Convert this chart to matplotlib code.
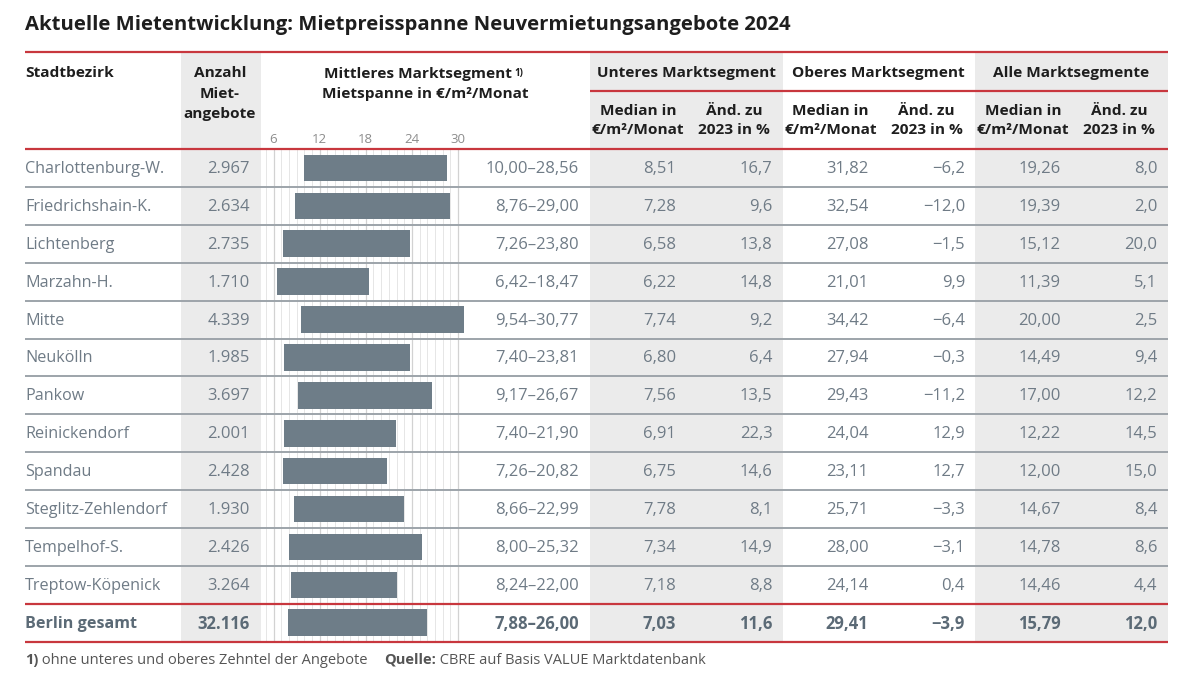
import matplotlib
matplotlib.use("Agg")
import matplotlib.pyplot as plt
from matplotlib.patches import Rectangle

# ---------------- data ----------------
districts = ["Charlottenburg-W.", "Friedrichshain-K.", "Lichtenberg", "Marzahn-H.", "Mitte",
             "Neukölln", "Pankow", "Reinickendorf", "Spandau", "Steglitz-Zehlendorf",
             "Tempelhof-S.", "Treptow-Köpenick", "Berlin gesamt"]
offers = [2967, 2634, 2735, 1710, 4339, 1985, 3697, 2001, 2428, 1930, 2426, 3264, 32116]
mid_low = [10.00, 8.76, 7.26, 6.42, 9.54, 7.40, 9.17, 7.40, 7.26, 8.66, 8.00, 8.24, 7.88]
mid_high = [28.56, 29.00, 23.80, 18.47, 30.77, 23.81, 26.67, 21.90, 20.82, 22.99, 25.32, 22.00, 26.00]
lower_median = [8.51, 7.28, 6.58, 6.22, 7.74, 6.80, 7.56, 6.91, 6.75, 7.78, 7.34, 7.18, 7.03]
lower_change = [16.7, 9.6, 13.8, 14.8, 9.2, 6.4, 13.5, 22.3, 14.6, 8.1, 14.9, 8.8, 11.6]
upper_median = [31.82, 32.54, 27.08, 21.01, 34.42, 27.94, 29.43, 24.04, 23.11, 25.71, 28.00, 24.14, 29.41]
upper_change = [-6.2, -12.0, -1.5, 9.9, -6.4, -0.3, -11.2, 12.9, 12.7, -3.3, -3.1, 0.4, -3.9]
all_median = [19.26, 19.39, 15.12, 11.39, 20.00, 14.49, 17.00, 12.22, 12.00, 14.67, 14.78, 14.46, 15.79]
all_change = [8.0, 2.0, 20.0, 5.1, 2.5, 9.4, 12.2, 14.5, 15.0, 8.4, 8.6, 4.4, 12.0]
axis_ticks = [6, 12, 18, 24, 30]
minor_ticks = list(range(5, 31))

title = "Aktuelle Mietentwicklung: Mietpreisspanne Neuvermietungsangebote 2024"

# ---------------- helpers ----------------
def de(v, nd):
    s = f"{abs(v):.{nd}f}".replace(".", ",")
    return ("\u2212" + s) if v < 0 else s

def thousands(n):
    return f"{n:,}".replace(",", ".")

FONT = ["Open Sans", "DejaVu Sans"]
plt.rcParams["font.family"] = FONT

W, H = 1194, 673
fig = plt.figure(figsize=(W / 100, H / 100), dpi=100)
fig.patch.set_facecolor("white")

bg = fig.add_axes([0, 0, 1, 1])
bg.set_xlim(0, W)
bg.set_ylim(H, 0)
bg.axis("off")
bg.set_zorder(2)
bg.patch.set_alpha(0)

RED = "#c8373e"
SEP = "#9da4aa"
SHADE = "#ebebeb"
TXT = "#6f7b86"
TXT_B = "#5b6a76"
HEAD = "#1e1e1e"
FS_H = 11.1   # header
FS_T = 11.6   # district names
FS_N = 12.0   # numbers

L, R = 25, 1168
top_y, sub_y, head_bot = 52, 91, 149
row_h = 37.9
n = len(districts)
bottom = head_bot + n * row_h

shade_ax = fig.add_axes([0, 0, 1, 1], zorder=0)
shade_ax.set_xlim(0, W)
shade_ax.set_ylim(H, 0)
shade_ax.axis("off")
for x0, x1 in [(180.5, 261), (590, 782.5), (975, R)]:
    shade_ax.add_patch(Rectangle((x0, top_y), x1 - x0, bottom - top_y, color=SHADE, lw=0))

# bar axes (middle market segment)
px0, scale = 273.5, 7.6875  # pixel of value 6, pixels per unit
xmin, xmax = 4, 32
ax_left = px0 + (xmin - 6) * scale
ax_right = px0 + (xmax - 6) * scale
ax = fig.add_axes([ax_left / W, (H - bottom) / H, (ax_right - ax_left) / W, (bottom - head_bot) / H], zorder=1)
ax.patch.set_alpha(0)
ax.set_xlim(xmin, xmax)
ax.set_ylim(n, 0)
ax.set_xticks(axis_ticks)
ax.set_xticks(minor_ticks, minor=True)
ax.set_yticks([])
ax.xaxis.tick_top()
ax.tick_params(axis="x", which="both", length=0, pad=2.5, labelsize=9.5, labelcolor="#8c8c8c")
ax.grid(which="major", axis="x", color="#d2d2d2", lw=0.9)
ax.grid(which="minor", axis="x", color="#e6e6e6", lw=0.7)
for s in ax.spines.values():
    s.set_visible(False)
ypos = [i + 0.5 for i in range(n)]
ax.barh(ypos, [h - l for l, h in zip(mid_low, mid_high)], left=mid_low, height=0.7,
        color="#6e7d88", zorder=3)

# lines
bg.plot([L, R], [top_y, top_y], color=RED, lw=1.6, solid_capstyle="butt")
bg.plot([590, R], [sub_y, sub_y], color=RED, lw=1.6, solid_capstyle="butt")
bg.plot([L, R], [head_bot, head_bot], color=RED, lw=1.6, solid_capstyle="butt")
for i in range(1, n - 1):
    y = head_bot + i * row_h
    bg.plot([L, R], [y, y], color=SEP, lw=1.4, solid_capstyle="butt")
y = head_bot + (n - 1) * row_h
bg.plot([L, R], [y, y], color=RED, lw=1.6, solid_capstyle="butt")
bg.plot([L, R], [bottom, bottom], color=RED, lw=1.6, solid_capstyle="butt")

# title
bg.text(L, 25, title, fontsize=14.6, fontweight="bold", color=HEAD, ha="left", va="center")

# headers
hk = dict(fontsize=FS_H, fontweight="bold", color=HEAD, va="center")
bg.text(L, 73, "Stadtbezirk", ha="left", **hk)
bg.text(220, 73, "Anzahl", ha="center", **hk)
bg.text(220, 94, "Miet-", ha="center", **hk)
bg.text(220, 114, "angebote", ha="center", **hk)
mt = bg.text(418, 74, "Mittleres Marktsegment", ha="center", **hk)
bg.annotate("1)", xy=(1, 1), xycoords=mt, xytext=(1.5, -0.5), textcoords="offset points",
            fontsize=7, fontweight="bold", color=HEAD, ha="left", va="top")
bg.text(425, 94, "Mietspanne in €/m²/Monat", ha="center", **hk)
groups = [("Unteres Marktsegment", 590), ("Oberes Marktsegment", 782.5), ("Alle Marktsegmente", 975)]
for name, gx in groups:
    bg.text(gx + 96, 73, name, ha="center", **hk)
    bg.text(gx + 48, 111, "Median in", ha="center", **hk)
    bg.text(gx + 48, 130, "€/m²/Monat", ha="center", **hk)
    bg.text(gx + 144, 111, "Änd. zu", ha="center", **hk)
    bg.text(gx + 144, 130, "2023 in %", ha="center", **hk)

# rows
for i in range(n):
    yc = head_bot + (i + 0.5) * row_h + 1
    last = i == n - 1
    col = TXT_B if last else TXT
    fw = "bold" if last else "normal"
    tk = dict(fontsize=FS_T, va="center", color=col, fontweight=fw)
    nk = dict(fontsize=FS_N, va="center", color=col, fontweight=fw)
    bg.text(L, yc, districts[i], ha="left", **tk)
    bg.text(250, yc, thousands(offers[i]), ha="right", **nk)
    bg.text(579, yc, de(mid_low[i], 2) + "\u2013" + de(mid_high[i], 2), ha="right", **nk)
    for gx, med, chg in [(590, lower_median, lower_change), (782.5, upper_median, upper_change),
                         (975, all_median, all_change)]:
        bg.text(gx + 86, yc, de(med[i], 2), ha="right", **nk)
        bg.text(gx + 182.5, yc, de(chg[i], 1), ha="right", **nk)

# footnote
FF = 10.5
fk = dict(fontsize=FF, va="center", color="#555555")
f1 = bg.text(L, 660, "1)", ha="left", fontweight="bold", **fk)
bg.annotate(" ohne unteres und oberes Zehntel der Angebote", xy=(1, 0.5), xycoords=f1,
            ha="left", va="center", fontsize=FF, color="#555555")
q = bg.text(384, 660, "Quelle:", ha="left", fontweight="bold", **fk)
bg.annotate(" CBRE auf Basis VALUE Marktdatenbank", xy=(1, 0.5), xycoords=q,
            ha="left", va="center", fontsize=FF, color="#555555")

fig.savefig("out.png", dpi=100, facecolor="white")
